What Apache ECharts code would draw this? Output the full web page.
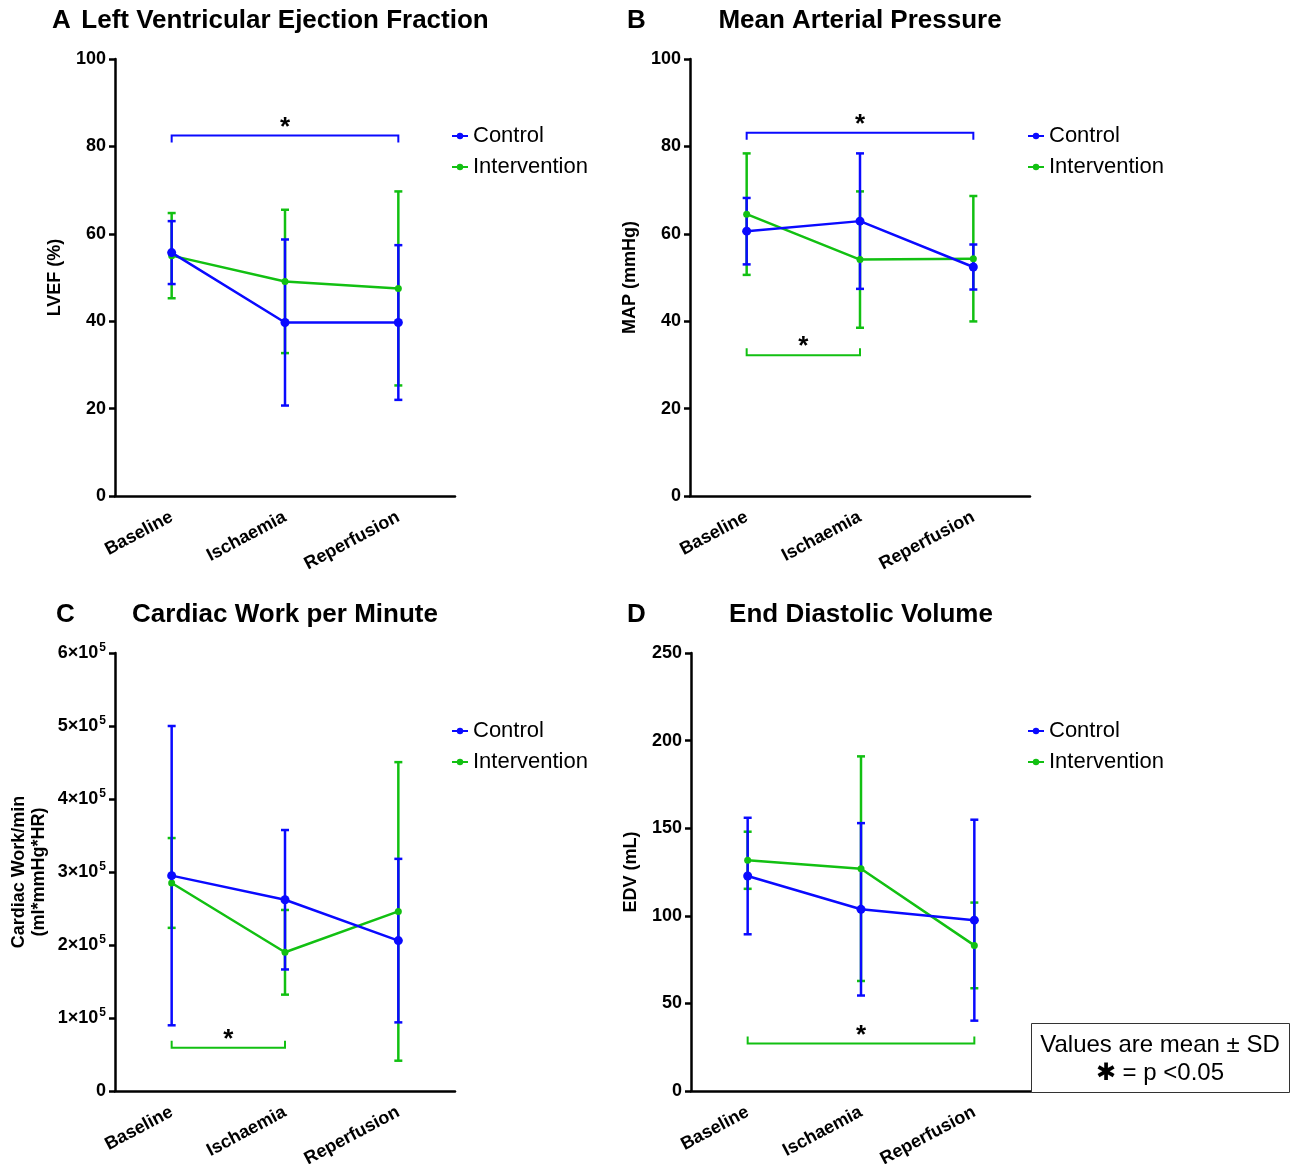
<!DOCTYPE html>
<html><head><meta charset="utf-8">
<script src="https://cdn.jsdelivr.net/npm/echarts@6/dist/echarts.min.js"></script>
<style>html,body{margin:0;padding:0;background:#fff}#c{width:1301px;height:1164px}</style>
</head><body><div id="c"></div>
<script>
const categories = ['Baseline', 'Ischaemia', 'Reperfusion'];

// A: LVEF (%)
const lvefControlMean = [55.7, 39.7, 39.7];
const lvefControlSD = [7.2, 19.0, 17.7];
const lvefInterventionMean = [55.0, 49.1, 47.5];
const lvefInterventionSD = [9.75, 16.4, 22.2];
// B: MAP (mmHg)
const mapControlMean = [60.6, 62.9, 52.4];
const mapControlSD = [7.6, 15.5, 5.15];
const mapInterventionMean = [64.5, 54.1, 54.3];
const mapInterventionSD = [13.9, 15.6, 14.35];
// C: Cardiac work per minute
const cwControlMean = [295000, 262000, 206000];
const cwControlSD = [205000, 95500, 112000];
const cwInterventionMean = [285000, 190000, 246000];
const cwInterventionSD = [61500, 58000, 204500];
// D: EDV (mL)
const edvControlMean = [122.7, 103.7, 97.5];
const edvControlSD = [33.25, 49.2, 57.35];
const edvInterventionMean = [131.7, 126.9, 83.1];
const edvInterventionSD = [16.3, 64.1, 24.45];

// significance brackets: [fromCategory, toCategory, value]
const lvefControlBrackets = [[0, 2, 82.5]];
const mapControlBrackets = [[0, 2, 83.1]];
const mapInterventionBrackets = [[0, 1, 32.2]];
const cwInterventionBrackets = [[0, 1, 59400]];
const edvInterventionBrackets = [[0, 2, 27.1]];

// y axis ranges: [min, max, interval]
const lvefAxis = [0, 100, 20];
const mapAxis = [0, 100, 20];
const cwAxis = [0, 600000, 100000];
const edvAxis = [0, 250, 50];

const panelLetters = ['A', 'B', 'C', 'D'];
const panelTitles = ['Left Ventricular Ejection Fraction', 'Mean Arterial Pressure', 'Cardiac Work per Minute', 'End Diastolic Volume'];
const yAxisNames = ['LVEF (%)', 'MAP (mmHg)', 'Cardiac Work/min\n(ml*mmHg*HR)', 'EDV (mL)'];
const legendNames = ['Control', 'Intervention'];
const noteLines = ['Values are mean \u00B1 SD', '\u2731 = p <0.05'];

const BLUE = '#0a0aff';
const GREEN = '#12c012';
const FONT = 'Liberation Sans, Arial, Helvetica, sans-serif';

const panels = [
  {cm: lvefControlMean, cs: lvefControlSD, im: lvefInterventionMean, is: lvefInterventionSD, cb: lvefControlBrackets, ib: [], ax: lvefAxis,
   grid: {left: 115, top: 59, width: 340, height: 437}, legend: {left: 446, top: 120}, nameGap: 50},
  {cm: mapControlMean, cs: mapControlSD, im: mapInterventionMean, is: mapInterventionSD, cb: mapControlBrackets, ib: mapInterventionBrackets, ax: mapAxis,
   grid: {left: 690, top: 59, width: 340, height: 437}, legend: {left: 1022, top: 120}, nameGap: 50},
  {cm: cwControlMean, cs: cwControlSD, im: cwInterventionMean, is: cwInterventionSD, cb: [], ib: cwInterventionBrackets, ax: cwAxis,
   grid: {left: 115, top: 653, width: 340, height: 438}, legend: {left: 446, top: 715}, nameGap: 66},
  {cm: edvControlMean, cs: edvControlSD, im: edvInterventionMean, is: edvInterventionSD, cb: [], ib: edvInterventionBrackets, ax: edvAxis,
   grid: {left: 691, top: 653, width: 340, height: 438}, legend: {left: 1022, top: 715}, nameGap: 50}
];

function errRender(color) {
  return function (params, api) {
    const x = api.value(0), m = api.value(1), sd = api.value(2);
    const t = api.coord([x, m + sd]);
    const b = api.coord([x, m - sd]);
    const hw = 4, st = {stroke: color, lineWidth: 2.5};
    return {type: 'group', children: [
      {type: 'line', shape: {x1: t[0], y1: t[1], x2: b[0], y2: b[1]}, style: st},
      {type: 'line', shape: {x1: t[0] - hw, y1: t[1], x2: t[0] + hw, y2: t[1]}, style: st},
      {type: 'line', shape: {x1: b[0] - hw, y1: b[1], x2: b[0] + hw, y2: b[1]}, style: st}
    ]};
  };
}
function bracketRender(color, dir) {
  return function (params, api) {
    const p0 = api.coord([api.value(0), api.value(2)]);
    const p1 = api.coord([api.value(1), api.value(2)]);
    const d = 7 * dir;
    const st = {stroke: color, lineWidth: 2};
    return {type: 'group', children: [
      {type: 'polyline', shape: {points: [[p0[0], p0[1] + d], [p0[0], p0[1]], [p1[0], p1[1]], [p1[0], p1[1] + d]]}, style: Object.assign({fill: null}, st)},
      {type: 'text', x: (p0[0] + p1[0]) / 2, y: p0[1] - 8, style: {text: '*', font: 'bold 26px ' + FONT, fill: '#000', align: 'center', verticalAlign: 'middle'}}
    ]};
  };
}

const grids = [], xAxes = [], yAxes = [], series = [], legends = [], graphics = [];
panels.forEach((p, i) => {
  grids.push(Object.assign({outerBoundsMode: 'none', containLabel: false}, p.grid));
  xAxes.push({type: 'category', gridIndex: i, data: categories, boundaryGap: true,
    axisLine: {lineStyle: {color: '#000', width: 2.5}},
    axisTick: {alignWithLabel: true, length: 6, lineStyle: {color: '#000', width: 2.5}},
    axisLabel: {rotate: 28, margin: 20, color: '#000', fontWeight: 'bold', fontSize: 18, fontFamily: FONT, interval: 0},
    splitLine: {show: false}});
  const isCW = i === 2;
  yAxes.push({type: 'value', gridIndex: i, min: p.ax[0], max: p.ax[1], interval: p.ax[2],
    name: yAxisNames[i], nameLocation: 'middle', nameGap: p.nameGap, nameRotate: 90,
    nameTextStyle: {color: '#000', fontWeight: 'bold', fontSize: 18, fontFamily: FONT, lineHeight: 20},
    axisLine: {show: true, lineStyle: {color: '#000', width: 2.5}},
    axisTick: {show: true, length: 6, lineStyle: {color: '#000', width: 2.5}},
    splitLine: {show: false},
    axisLabel: {margin: 9, color: '#000', fontWeight: 'bold', fontSize: 18, fontFamily: FONT,
      formatter: isCW ? (v => v === 0 ? '{b|0}' : '{b|' + (v / 100000) + '\u00D710}{s|5}') : undefined,
      rich: isCW ? {b: {fontWeight: 'bold', fontSize: 18, fontFamily: FONT, color: '#000'},
                    s: {fontWeight: 'bold', fontSize: 12, fontFamily: FONT, color: '#000', padding: [0, 0, 10, 1]}} : undefined}
  });
  series.push({name: 'Intervention SD', type: 'custom', xAxisIndex: i, yAxisIndex: i, renderItem: errRender(GREEN),
    encode: {x: 0, y: 1}, data: categories.map((c, k) => [k, p.im[k], p.is[k]]), z: 2, silent: true});
  series.push({name: 'Control SD', type: 'custom', xAxisIndex: i, yAxisIndex: i, renderItem: errRender(BLUE),
    encode: {x: 0, y: 1}, data: categories.map((c, k) => [k, p.cm[k], p.cs[k]]), z: 3, silent: true});
  series.push({name: 'Intervention', type: 'line', xAxisIndex: i, yAxisIndex: i, data: p.im, symbol: 'circle', symbolSize: 7,
    lineStyle: {color: GREEN, width: 2.5}, itemStyle: {color: GREEN}, z: 4, animation: false});
  series.push({name: 'Control', type: 'line', xAxisIndex: i, yAxisIndex: i, data: p.cm, symbol: 'circle', symbolSize: 9,
    lineStyle: {color: BLUE, width: 2.5}, itemStyle: {color: BLUE}, z: 5, animation: false});
  if (p.cb.length) series.push({name: 'Control sig', type: 'custom', xAxisIndex: i, yAxisIndex: i, renderItem: bracketRender(BLUE, 1),
    encode: {x: [0, 1], y: 2}, data: p.cb, z: 6, silent: true});
  if (p.ib.length) series.push({name: 'Intervention sig', type: 'custom', xAxisIndex: i, yAxisIndex: i, renderItem: bracketRender(GREEN, -1),
    encode: {x: [0, 1], y: 2}, data: p.ib, z: 6, silent: true});
  legends.push({data: legendNames, orient: 'vertical', left: p.legend.left, top: p.legend.top, itemGap: 9,
    itemWidth: 16, itemHeight: 8, textStyle: {color: '#000', fontSize: 22, fontFamily: FONT}, selectedMode: false});
  const cx = p.grid.left + p.grid.width / 2;
  const ty = p.grid.top - 38;
  graphics.push({type: 'text', x: cx, y: ty, style: {text: panelTitles[i], font: 'bold 26px ' + FONT, fill: '#000', align: 'center', verticalAlign: 'middle'}});
  graphics.push({type: 'text', x: (i % 2 === 0) ? (i === 0 ? 52 : 56) : 627, y: ty, style: {text: panelLetters[i], font: 'bold 26px ' + FONT, fill: '#000', align: 'left', verticalAlign: 'middle'}});
});
graphics.push({type: 'rect', shape: {x: 1031.5, y: 1023.5, width: 258, height: 69}, style: {fill: '#fff', stroke: '#333', lineWidth: 1}, z: 10});
graphics.push({type: 'text', x: 1160, y: 1045, style: {text: noteLines[0], font: '24px ' + FONT, fill: '#000', align: 'center', verticalAlign: 'middle'}, z: 11});
graphics.push({type: 'text', x: 1160, y: 1073, style: {text: noteLines[1], font: '24px ' + FONT, fill: '#000', align: 'center', verticalAlign: 'middle'}, z: 11});

const chart = echarts.init(document.getElementById('c'), null, {renderer: 'canvas'});
chart.setOption({animation: false, backgroundColor: '#fff', grid: grids, xAxis: xAxes, yAxis: yAxes, series: series, legend: legends, graphic: graphics});
</script></body></html>
